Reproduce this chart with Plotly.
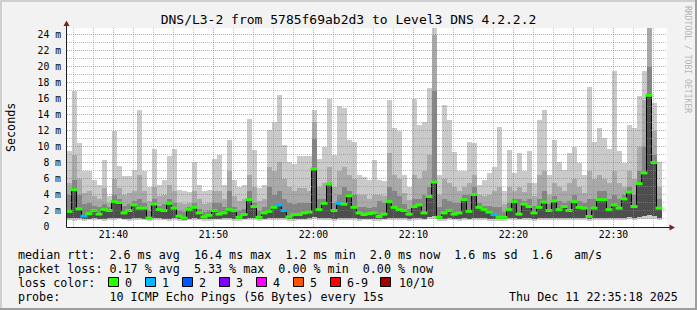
import plotly.graph_objects as go
import pandas as pd

# ---------------- data ----------------
t_start = "2025-12-11 21:35:18"          # first sample
view_start = "2025-12-11 21:35:21"       # graph window
view_end = "2025-12-11 22:35:21"
step_seconds = 30

median_ms = [1.9, 4.6, 2.2, 1.3, 1.6, 2.0, 1.55, 2.1, 2.0, 3.1, 3.0, 1.7, 2.0, 2.7, 2.3, 2.3, 1.05, 2.8, 2.1, 2.0,
             2.9, 2.3, 1.3, 1.05, 2.1, 2.4, 1.7, 1.2, 1.4, 2.0,
             1.55, 1.7, 2.1, 2.0, 1.15, 1.5, 3.35, 2.5, 1.15, 1.7, 1.9, 2.4, 2.7, 2.0, 1.2, 1.5, 1.5, 1.7, 1.8, 7.2,
             2.1, 2.9, 5.3, 2.0, 2.9, 2.8, 3.85, 2.4, 1.7, 1.5,
             1.6, 1.7, 1.25, 1.55, 3.1, 2.4, 2.1, 2.0, 1.55, 2.5, 2.7, 1.7, 3.75, 5.55, 1.15, 1.7, 2.0, 1.55, 1.7, 3.35,
             1.9, 4.0, 2.4, 2.1, 1.8, 1.5, 1.15, 1.15, 2.1, 3.1,
             1.55, 2.8, 2.5, 1.7, 2.4, 3.05, 2.0, 3.2, 2.1, 2.5, 2.0, 3.1, 2.4, 2.3, 1.25, 2.3, 3.35, 3.35, 2.1, 2.7,
             2.3, 3.45, 4.3, 2.5, 5.35, 6.7, 16.4, 8.0, 2.3, None]

rtt_max = [9.5, 17.0, 10.4, 6.9, 7.0, 5.8, 5.2, 8.3, 3.8, 12.0, 7.6, 6.3, 6.3, 7.1, 14.6, 6.9, 5.0, 9.7, 5.2, 5.8,
           8.8, 9.7, 4.6, 4.4, 4.3, 8.1, 5.2, 4.4, 4.6, 8.5,
           9.0, 5.2, 10.8, 5.8, 5.0, 5.2, 13.5, 9.6, 4.8, 5.2, 12.1, 13.1, 16.5, 10.2, 8.1, 7.8, 8.8, 8.8, 8.8, 14.6,
           8.5, 10.0, 16.0, 9.0, 15.1, 14.8, 10.8, 10.6, 6.5, 6.2,
           5.8, 8.3, 5.8, 5.7, 15.8, 12.3, 11.9, 6.5, 5.0, 16.0, 12.7, 13.1, 17.3, 26.0, 6.5, 15.2, 13.3, 9.3, 6.9, 6.9,
           10.6, 10.5, 5.2, 5.8, 6.7, 7.5, 12.5, 4.4, 9.6, 6.7,
           9.2, 6.9, 9.4, 5.5, 13.35, 14.6, 6.5, 10.8, 8.1, 7.1, 9.2, 10.0, 7.9, 6.5, 17.4, 10.6, 12.3, 11.05, 9.7, 19.5,
           9.5, 7.9, 12.7, 12.3, 16.3, 19.4, 26.0, 15.4, 8.1, None]

rtt_p9 = [5.5, 9.0, 6.0, 4.2, 4.5, 3.8, 3.5, 4.8, 3.0, 6.0, 4.8, 4.0, 4.2, 4.5, 6.5, 4.5, 3.2, 5.0, 3.8, 4.0,
          5.2, 4.5, 3.0, 2.8, 3.0, 4.5, 3.4, 2.8, 3.0, 4.5,
          4.5, 3.5, 7.0, 3.8, 3.2, 3.4, 6.5, 5.0, 3.2, 3.5, 7.5, 7.0, 8.1, 6.0, 5.0, 4.5, 4.8, 4.8, 4.5, 13.1,
          5.0, 5.5, 7.5, 5.0, 7.0, 7.5, 6.5, 6.0, 4.0, 4.0,
          3.5, 4.0, 4.0, 3.8, 9.2, 6.5, 6.0, 4.2, 3.3, 6.5, 6.0, 7.0, 9.0, 24.0, 4.0, 6.0, 5.5, 5.0, 4.5, 5.0,
          5.5, 6.5, 4.0, 3.8, 4.0, 4.5, 5.0, 2.8, 5.0, 4.5,
          5.0, 4.3, 5.5, 3.8, 6.5, 7.0, 4.0, 5.5, 5.0, 4.5, 5.5, 6.0, 5.0, 4.2, 7.0, 6.0, 6.5, 6.0, 5.5, 7.0,
          5.5, 5.0, 7.0, 6.0, 10.0, 15.8, 26.0, 12.0, 5.0, None]

rtt_p8 = [4.0, 5.8, 4.0, 2.8, 3.0, 2.6, 2.4, 2.8, 2.4, 4.0, 3.5, 2.6, 2.8, 3.2, 3.5, 3.0, 2.0, 3.5, 2.6, 2.8,
          3.5, 3.0, 2.0, 1.8, 2.5, 3.0, 2.2, 1.8, 2.0, 3.0,
          3.0, 2.4, 4.5, 2.5, 2.0, 2.2, 4.5, 3.0, 2.0, 2.4, 5.0, 4.0, 4.5, 3.5, 3.0, 2.8, 3.0, 3.0, 3.0, 11.0,
          3.5, 3.5, 5.5, 3.0, 4.0, 5.0, 4.5, 4.0, 2.5, 2.5,
          2.3, 2.5, 3.2, 3.0, 5.0, 4.5, 3.8, 2.8, 2.2, 3.5, 3.5, 4.0, 5.0, 17.0, 2.5, 3.5, 3.2, 3.0, 3.0, 4.0,
          4.0, 5.0, 3.0, 2.6, 2.6, 2.5, 2.5, 1.8, 3.0, 3.5,
          3.5, 3.2, 3.5, 2.6, 3.5, 4.5, 2.8, 3.8, 3.2, 3.0, 3.2, 4.0, 3.2, 3.0, 3.5, 3.5, 4.5, 4.5, 3.5, 4.0,
          3.5, 4.0, 5.0, 4.0, 7.0, 10.0, 20.0, 9.0, 3.5, None]

rtt_lo = [1.05, 1.1, 1.05, 0.95, 1.0, 1.05, 1.0, 1.0, 1.05, 1.05, 1.1, 1.0, 1.0, 1.05, 1.05, 1.0, 0.95, 1.05, 1.05, 1.0,
          1.0, 1.05, 0.95, 0.9, 1.0, 1.05, 1.0, 0.95, 0.95, 1.0,
          1.0, 1.05, 1.05, 1.0, 0.95, 1.0, 1.1, 1.05, 0.95, 1.0, 1.05, 1.05, 1.05, 1.05, 0.95, 1.0, 1.0, 1.0, 1.05, 1.2,
          1.05, 1.05, 1.1, 1.0, 1.05, 1.1, 1.05, 1.05, 1.0, 1.0,
          1.0, 1.0, 0.95, 1.0, 1.1, 1.05, 1.05, 1.05, 1.0, 1.05, 1.05, 1.0, 1.2, 1.3, 0.95, 1.0, 1.05, 1.0, 1.0, 1.1,
          1.0, 1.1, 1.05, 1.05, 1.0, 0.95, 0.95, 0.9, 1.05, 1.1,
          1.0, 1.1, 1.05, 1.0, 1.05, 1.1, 1.05, 1.1, 1.05, 1.05, 1.05, 1.1, 1.05, 1.05, 0.95, 1.05, 1.1, 1.1, 1.05, 1.05,
          1.05, 1.1, 1.2, 1.05, 1.2, 1.3, 1.5, 1.3, 1.05, None]

rtt_min = [0.8, 0.75, 0.85, 0.7, 0.8, 0.85, 0.8, 0.75, 0.85, 0.8, 0.9, 0.8, 0.75, 0.8, 0.85, 0.8, 0.7, 0.8, 0.85, 0.8,
           0.75, 0.8, 0.7, 0.65, 0.8, 0.85, 0.8, 0.7, 0.75, 0.8,
           0.8, 0.85, 0.8, 0.75, 0.7, 0.8, 0.85, 0.8, 0.7, 0.8, 0.85, 0.8, 0.8, 0.85, 0.7, 0.75, 0.8, 0.8, 0.85, 0.9,
           0.8, 0.85, 0.8, 0.75, 0.8, 0.85, 0.8, 0.8, 0.75, 0.8,
           0.8, 0.75, 0.7, 0.8, 0.85, 0.8, 0.8, 0.85, 0.75, 0.8, 0.85, 0.8, 0.9, 0.95, 0.7, 0.75, 0.8, 0.8, 0.75, 0.85,
           0.8, 0.85, 0.8, 0.8, 0.75, 0.7, 0.7, 0.65, 0.8, 0.85,
           0.8, 0.85, 0.8, 0.75, 0.8, 0.85, 0.8, 0.85, 0.8, 0.8, 0.8, 0.85, 0.8, 0.8, 0.7, 0.8, 0.85, 0.85, 0.8, 0.8,
           0.8, 0.85, 0.9, 0.8, 0.9, 0.95, 1.0, 0.95, 0.8, None]

# lost pings (out of 10) per step
loss_pings = [0, 0, 0, 1, 0, 0, 0, 0, 0, 0, 0, 0, 0, 0, 0, 0, 0, 0, 0, 0, 0, 0, 0, 0, 0, 0, 0, 0, 0, 0,
              0, 0, 0, 0, 0, 0, 0, 0, 0, 0, 0, 0, 1, 1, 0, 0, 0, 0, 0, 0, 0, 0, 0, 0, 1, 0, 0, 0, 0, 0,
              0, 0, 0, 0, 0, 0, 0, 0, 0, 0, 0, 0, 0, 0, 0, 0, 0, 0, 0, 0, 0, 0, 0, 0, 0, 1, 0, 0, 0, 0,
              0, 0, 0, 0, 0, 0, 0, 0, 0, 0, 0, 0, 0, 0, 0, 0, 0, 0, 0, 0, 0, 0, 0, 0, 0, 0, 0, 0, 0, None]

y_tick_vals = [0, 2, 4, 6, 8, 10, 12, 14, 16, 18, 20, 22, 24]
y_tick_text = ["0\u00a0\u00a0", "2 m", "4 m", "6 m", "8 m", "10 m", "12 m", "14 m", "16 m", "18 m",
               "20 m", "22 m", "24 m"]

legend_loss_labels = ["0", "1", "2", "3", "4", "5", "6-9", "10/10"]
legend_loss_colors = ["#26ff00", "#00b8ff", "#0059ff", "#7e00ff", "#ff00ff", "#ff5500", "#ff0000", "#a10000"]

title_text = "DNS/L3-2 from 5785f69ab2d3 to Level3 DNS 4.2.2.2"
stat_lines = [
    "median rtt:  2.6 ms avg  16.4 ms max  1.2 ms min  2.0 ms now  1.6 ms sd  1.6   am/s",
    "packet loss: 0.17 % avg  5.33 % max  0.00 % min  0.00 % now",
    "loss color:",
    "probe:       10 ICMP Echo Pings (56 Bytes) every 15s",
]
date_text = "Thu Dec 11 22:35:18 2025"
watermark = "RRDTOOL / TOBI OETIKER"

# ---------------- layout geometry (pixels) ----------------
FIG_W, FIG_H = 697, 310
PL, PR, PT, PB = 67, 667, 28, 227
Y_LO, Y_HI = -0.0625, 24.8125          # 8 px per ms, grid on pixel centres
MONO = "DejaVu Sans Mono"


def px_x(px):
    return (px - PL) / (PR - PL)


def px_y(py):
    return (PB - py) / (PB - PT)


start = pd.Timestamp(t_start)
times = [start + pd.Timedelta(seconds=step_seconds * i) for i in range(len(median_ms))]
centers = [t + pd.Timedelta(seconds=step_seconds / 2) for t in times]
step_ms = step_seconds * 1000


def span(lo, hi):
    return [None if (a is None or b is None) else b - a for a, b in zip(lo, hi)]


fig = go.Figure()

bands = [
    (rtt_min, rtt_max, "#cacaca"),
    (rtt_lo, rtt_p9, "#a9a9a9"),
    (rtt_lo, rtt_p8, "#858585"),
    (rtt_lo, median_ms, "#4e4e4e"),
]
for lo, hi, col in bands:
    fig.add_trace(go.Bar(
        x=times, y=span(lo, hi), base=lo, width=step_ms, offset=0,
        marker=dict(color=col, line=dict(width=0)), hoverinfo="skip",
    ))

fig.add_trace(go.Scatter(
    x=times, y=median_ms, mode="lines", line=dict(color="#000000", width=1, shape="hv"),
    connectgaps=False, hoverinfo="skip",
))

marker_cols = []
for lp in loss_pings:
    if lp is None:
        marker_cols.append("rgba(0,0,0,0)")
    elif lp >= 10:
        marker_cols.append(legend_loss_colors[7])
    elif lp >= 6:
        marker_cols.append(legend_loss_colors[6])
    else:
        marker_cols.append(legend_loss_colors[lp])

fig.add_trace(go.Scatter(
    x=centers, y=median_ms, mode="markers",
    marker=dict(symbol="line-ew", size=5, line=dict(width=3, color=marker_cols)),
    hoverinfo="skip",
))

shapes = []
# grid (drawn above the data, like rrdtool)
MAJ = "rgba(222,79,79,0.6)"
MIN = "rgba(143,143,143,0.6)"
for v in range(1, 25):
    shapes.append(dict(type="line", xref="paper", yref="y", x0=0, x1=1, y0=v, y1=v,
                       line=dict(color=MAJ if v % 2 == 0 else MIN, width=1, dash="1px,1px"), layer="above"))
for t in pd.date_range("2025-12-11 21:36:00", "2025-12-11 22:34:00", freq="2min"):
    shapes.append(dict(type="line", xref="x", yref="paper", x0=t, x1=t, y0=0, y1=1,
                       line=dict(color=MAJ if t.minute % 10 == 0 else MIN, width=1, dash="1px,1px"),
                       layer="above"))

# axes lines + arrows
AX = "#1f1f1f"
ARROW = "#801f1f"
shapes.append(dict(type="line", xref="paper", yref="paper", x0=px_x(PL - 0.5), x1=px_x(671),
                   y0=px_y(PB + 0.5), y1=px_y(PB + 0.5), line=dict(color=AX, width=1), layer="above"))
shapes.append(dict(type="line", xref="paper", yref="paper", x0=px_x(PL - 0.5), x1=px_x(PL - 0.5),
                   y0=px_y(PB + 0.5), y1=px_y(24), line=dict(color=AX, width=1), layer="above"))
shapes.append(dict(type="path", xref="paper", yref="paper",
                   path=f"M {px_x(63.5)} {px_y(26)} L {px_x(69.5)} {px_y(26)} L {px_x(66.5)} {px_y(20.5)} Z",
                   fillcolor=ARROW, line=dict(width=0), layer="above"))
shapes.append(dict(type="path", xref="paper", yref="paper",
                   path=f"M {px_x(669.5)} {px_y(224.5)} L {px_x(669.5)} {px_y(230.5)} L {px_x(675)} {px_y(227.5)} Z",
                   fillcolor=ARROW, line=dict(width=0), layer="above"))

# frame shading
SHA, SHB = "#cfcfcf", "#9e9e9e"
shapes.append(dict(type="rect", xref="paper", yref="paper", x0=px_x(0), x1=px_x(FIG_W), y0=px_y(0), y1=px_y(2),
                   fillcolor=SHA, line=dict(width=0), layer="below"))
shapes.append(dict(type="rect", xref="paper", yref="paper", x0=px_x(0), x1=px_x(2), y0=px_y(0), y1=px_y(FIG_H),
                   fillcolor=SHA, line=dict(width=0), layer="below"))
shapes.append(dict(type="rect", xref="paper", yref="paper", x0=px_x(0), x1=px_x(FIG_W), y0=px_y(FIG_H - 2),
                   y1=px_y(FIG_H), fillcolor=SHB, line=dict(width=0), layer="below"))
shapes.append(dict(type="rect", xref="paper", yref="paper", x0=px_x(FIG_W - 2), x1=px_x(FIG_W), y0=px_y(0),
                   y1=px_y(FIG_H), fillcolor=SHB, line=dict(width=0), layer="below"))

# loss colour legend boxes
box_left = [108.5, 145.5, 182.5, 219.5, 256.5, 293.5, 330.5, 380.5]
label_left = [123, 160, 197, 234, 271, 308, 345, 397]
annotations = []
for bx, lx, lab, col in zip(box_left, label_left, legend_loss_labels, legend_loss_colors):
    shapes.append(dict(type="rect", xref="paper", yref="paper", x0=px_x(bx), x1=px_x(bx + 10),
                       y0=px_y(277.5), y1=px_y(286.5), fillcolor=col, line=dict(color="#000000", width=1),
                       layer="above"))
    annotations.append(dict(text=lab, xref="paper", yref="paper", x=px_x(lx), y=px_y(282.5),
                            xanchor="left", yanchor="middle", showarrow=False,
                            font=dict(family=MONO, size=11.7, color="#000000")))

for i, line in enumerate(stat_lines):
    annotations.append(dict(text=line.replace(" ", "\u00a0"), xref="paper", yref="paper",
                            x=px_x(16), y=px_y(254.5 + 14 * i), xanchor="left", yanchor="middle",
                            showarrow=False, font=dict(family=MONO, size=11.7, color="#000000")))

annotations.append(dict(text=date_text.replace(" ", "\u00a0"), xref="paper", yref="paper", x=px_x(680),
                        y=px_y(296.5), xanchor="right", yanchor="middle", showarrow=False,
                        font=dict(family=MONO, size=11.7, color="#000000")))
annotations.append(dict(text="Seconds", xref="paper", yref="paper", x=px_x(10.5), y=px_y(127.5),
                        xanchor="center", yanchor="middle", textangle=-90, showarrow=False,
                        font=dict(family=MONO, size=11.7, color="#000000")))
annotations.append(dict(text=watermark.replace(" ", "\u00a0"), xref="paper", yref="paper", x=px_x(688),
                        y=px_y(59), xanchor="center", yanchor="middle", textangle=90, showarrow=False,
                        font=dict(family=MONO, size=8.1, color="#b5b5b5")))

fig.update_layout(
    width=FIG_W, height=FIG_H, autosize=False,
    margin=dict(l=PL, r=FIG_W - PR, t=PT, b=FIG_H - PB, pad=0),
    paper_bgcolor="#f2f2f2", plot_bgcolor="#ffffff",
    barmode="overlay", bargap=0, showlegend=False,
    title=dict(text=title_text, x=0.5, xref="container", xanchor="center",
               y=1 - 19 / FIG_H, yref="container", yanchor="middle",
               font=dict(family=MONO, size=13, color="#000000")),
    xaxis=dict(type="date", range=[view_start, view_end], tickmode="linear", tick0="2025-12-11 21:40:00",
               dtick=600000, tickformat="%H:%M", showgrid=False, zeroline=False, showline=False,
               ticks="", automargin=False, fixedrange=True,
               tickfont=dict(family=MONO, size=9.75, color="#000000")),
    yaxis=dict(range=[Y_LO, Y_HI], tickmode="array", tickvals=y_tick_vals, ticktext=y_tick_text,
               showgrid=False, zeroline=False, showline=False, ticks="", automargin=False,
               ticklabelstandoff=5, fixedrange=True,
               tickfont=dict(family=MONO, size=9.75, color="#000000")),
    shapes=shapes, annotations=annotations,
)

fig.write_html("out.html")
